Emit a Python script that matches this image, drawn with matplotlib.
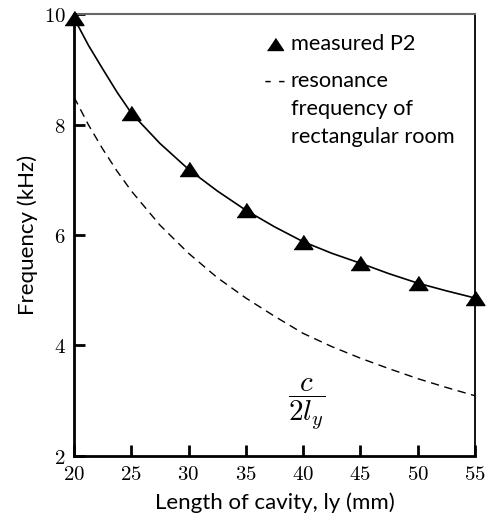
import matplotlib
matplotlib.use("Agg")
import matplotlib.pyplot as plt

# measured points (triangles)
length_mm = [20, 25, 30, 35, 40, 45, 50, 55]
measured_khz = [9.93, 8.21, 7.19, 6.45, 5.88, 5.49, 5.13, 4.86]

# solid fitted curve
fit_x = [20, 21.25, 22.5, 23.75, 25, 27.5, 30, 32.5, 35, 37.5, 40, 42.5, 45, 47.5, 50, 52.5, 55]
fit_y = [9.93, 9.44, 9.01, 8.59, 8.21, 7.66, 7.19, 6.80, 6.45, 6.15, 5.88, 5.67, 5.49, 5.30, 5.13, 4.99, 4.86]

# dashed curve c/(2 ly)
room_x = [20, 21.25, 22.5, 23.75, 25, 27.5, 30, 32.5, 35, 37.5, 40, 42.5, 45, 47.5, 50, 52.5, 55]
room_y = [8.50, 8.00, 7.56, 7.16, 6.80, 6.18, 5.67, 5.23, 4.86, 4.53, 4.22, 3.98, 3.77, 3.58, 3.40, 3.24, 3.09]

xticks = [20, 25, 30, 35, 40, 45, 50, 55]
yticks = [2, 4, 6, 8, 10]

plt.rcParams["mathtext.fontset"] = "cm"
sans = ["Lato", "DejaVu Sans"]
tri = [(-1, -0.75), (1, -0.75), (0, 0.75)]

fig = plt.figure(figsize=(4.9, 5.24), dpi=100)
ax = fig.add_axes([0.151, 0.130, 0.818, 0.843])

ax.plot(fit_x, fit_y, color="black", lw=1.2)
ax.plot(room_x, room_y, color="black", lw=1.0, linestyle=(0, (6, 4)))
ax.plot(length_mm, measured_khz, linestyle="none", marker=tri, color="black",
        markersize=13.5, clip_on=False, zorder=5)

ax.set_xlim(20, 55)
ax.set_ylim(2, 10)
ax.set_xticks(xticks)
ax.set_yticks(yticks)
ax.set_xticklabels([r"$%d$" % v for v in xticks], fontsize=15)
ax.set_yticklabels([r"$%d$" % v for v in yticks], fontsize=15)
ax.tick_params(direction="in", length=8, width=2, top=False, right=False, pad=6)

ax.spines["left"].set_linewidth(2)
ax.spines["bottom"].set_linewidth(2)
ax.spines["right"].set_linewidth(1.3)
ax.spines["top"].set_linewidth(1.5)
ax.spines["top"].set_color("#666666")

ax.set_xlabel("Length of cavity, ly (mm)", family=sans, fontsize=16, labelpad=6)
ax.set_ylabel("Frequency (kHz)", family=sans, fontsize=16, labelpad=4)

# legend drawn as text
ax.plot([37.54], [9.46], marker=tri, color="black", markersize=11.5, linestyle="none")
ax.text(38.94, 9.35, "measured P2", family=sans, fontsize=15.7, va="baseline")
ax.text(37.54, 8.77, "- -", family=sans, fontsize=15.7, va="center", ha="center")
ax.text(38.94, 8.68, "resonance", family=sans, fontsize=15.7, va="baseline")
ax.text(38.94, 8.17, "frequency of", family=sans, fontsize=15.7, va="baseline")
ax.text(38.94, 7.66, "rectangular room", family=sans, fontsize=15.7, va="baseline")

ax.text(40.3, 2.94, r"$\dfrac{c}{2l_y}$", fontsize=21, ha="center", va="center")

fig.savefig("out.png", dpi=100)
